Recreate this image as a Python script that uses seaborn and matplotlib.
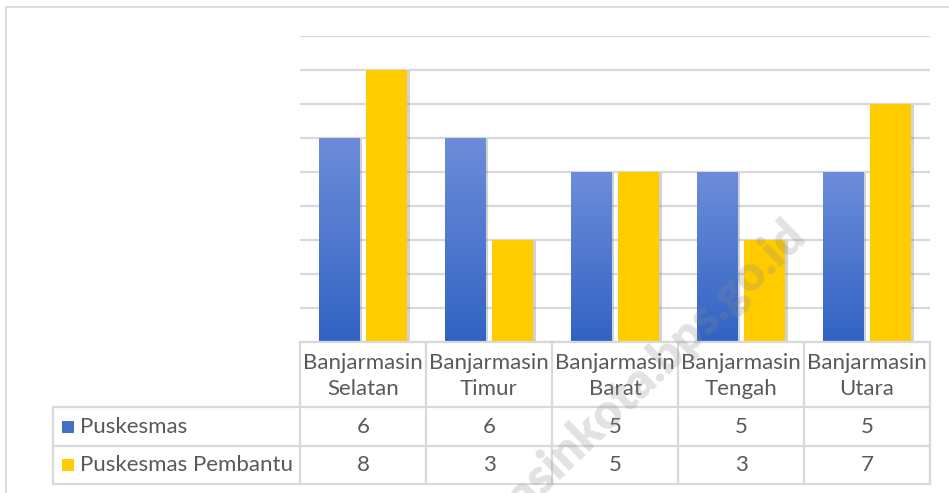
import numpy as np
import pandas as pd
import seaborn as sns
import matplotlib.pyplot as plt
from matplotlib.lines import Line2D
from matplotlib.patches import Rectangle
from matplotlib import patheffects as pe
from matplotlib.colors import LinearSegmentedColormap
import matplotlib.transforms as mtrans

categories = ["Banjarmasin\nSelatan", "Banjarmasin\nTimur", "Banjarmasin\nBarat",
              "Banjarmasin\nTengah", "Banjarmasin\nUtara"]
series_names = ["Puskesmas", "Puskesmas Pembantu"]
puskesmas = [6, 6, 5, 5, 5]
pembantu = [8, 3, 5, 3, 7]
colors = ["#4472C4", "#FFCC00"]

df = pd.DataFrame({
    "Kecamatan": categories * 2,
    "Jenis": [series_names[0]] * len(categories) + [series_names[1]] * len(categories),
    "Jumlah": puskesmas + pembantu,
})

sns.set_theme(style="white")
plt.rcParams['font.family'] = ['Lato', 'DejaVu Sans']

W, H = 949, 493
fig = plt.figure(figsize=(W / 100, H / 100), dpi=100)
fig.patch.set_facecolor("white")

def fx(px):
    return px / W

def fy(py):
    return 1 - py / H

ax = fig.add_axes([fx(300), fy(342), (930 - 300) / W, (342 - 36) / H])
sns.barplot(data=df, x="Kecamatan", y="Jumlah", hue="Jenis", palette=colors,
            width=0.76, gap=0.145, ax=ax, legend=False, saturation=1)
ax.set_xlim(-0.5, 4.5)
ax.set_ylim(0, 9)
ax.set_yticks(range(0, 10))
ax.yaxis.grid(True, color="#D9D9D9", lw=1.6)
ax.xaxis.grid(False)
ax.set_axisbelow(True)
ax.tick_params(left=False, bottom=False, labelleft=False, labelbottom=False)
for s in ax.spines.values():
    s.set_visible(False)
ax.set_xlabel("")
ax.set_ylabel("")

shadow = [pe.SimplePatchShadow(offset=(2, -1), shadow_rgbFace="#7F7F7F", alpha=0.35), pe.Normal()]
grad = np.linspace(0, 1, 256).reshape(-1, 1)
cmap_blue = LinearSegmentedColormap.from_list("b", ["#3163C3", "#6D8DDA"])
for cont_i, cont in enumerate(ax.containers):
    for p in cont.patches:
        p.set_path_effects(shadow)
        p.set_edgecolor("none")
        if cont_i == 0:
            x0, w, h = p.get_x(), p.get_width(), p.get_height()
            im = ax.imshow(grad, extent=(x0, x0 + w, 0, h), origin="lower",
                           cmap=cmap_blue, aspect="auto", zorder=p.get_zorder() + 0.1)
            im.set_clip_path(p)
ax.set_xlim(-0.5, 4.5)
ax.set_ylim(0, 9)

# data table
gc = "#D9D9D9"
tc = "#595959"
btrans = mtrans.blended_transform_factory(ax.transData, fig.transFigure)
rows_y = [342, 407, 446, 484]
for py in rows_y:
    ax.add_line(Line2D([-0.5, 4.5], [fy(py), fy(py)], transform=btrans, color=gc, lw=1.6, clip_on=False))
for xb in np.arange(-0.5, 5.0, 1.0):
    ax.add_line(Line2D([xb, xb], [fy(342), fy(484)], transform=btrans, color=gc, lw=1.6, clip_on=False))
for py in rows_y[1:]:
    fig.add_artist(Line2D([fx(53), fx(300)], [fy(py), fy(py)], color=gc, lw=1.6))
fig.add_artist(Line2D([fx(53), fx(53)], [fy(407), fy(484)], color=gc, lw=1.6))

for i, c in enumerate(categories):
    ax.text(i, fy(376), c, transform=btrans, ha="center", va="center",
            fontsize=16, color=tc, linespacing=1.4)
for vals, py in ((puskesmas, 427), (pembantu, 465)):
    for i, v in enumerate(vals):
        ax.text(i, fy(py), str(v), transform=btrans, ha="center", va="center",
                fontsize=16, color=tc)

key_colors = ["#4472C4", "#FFCC00"]
for name, kc, py in zip(series_names, key_colors, (427, 465)):
    fig.add_artist(Rectangle((fx(62), fy(py + 6)), 12 / W, 12 / H, facecolor=kc,
                             edgecolor="none", transform=fig.transFigure))
    fig.text(fx(80), fy(py), name, ha="left", va="center", fontsize=16, color=tc)

# outer chart border (left and top)
fig.add_artist(Line2D([fx(5.5), fx(5.5)], [fy(7), 0], color=gc, lw=1.2))
fig.add_artist(Line2D([fx(5.5), 1], [fy(7), fy(7)], color=gc, lw=1.2))

# watermark
fig.text(fx(808), fy(238), "banjarmasinkota.bps.go.id", rotation=44,
         rotation_mode="anchor", ha="right", va="baseline", fontsize=35,
         fontweight="heavy", color="#8A8A8A", alpha=0.25, zorder=10)

fig.savefig("out.png", dpi=100)
